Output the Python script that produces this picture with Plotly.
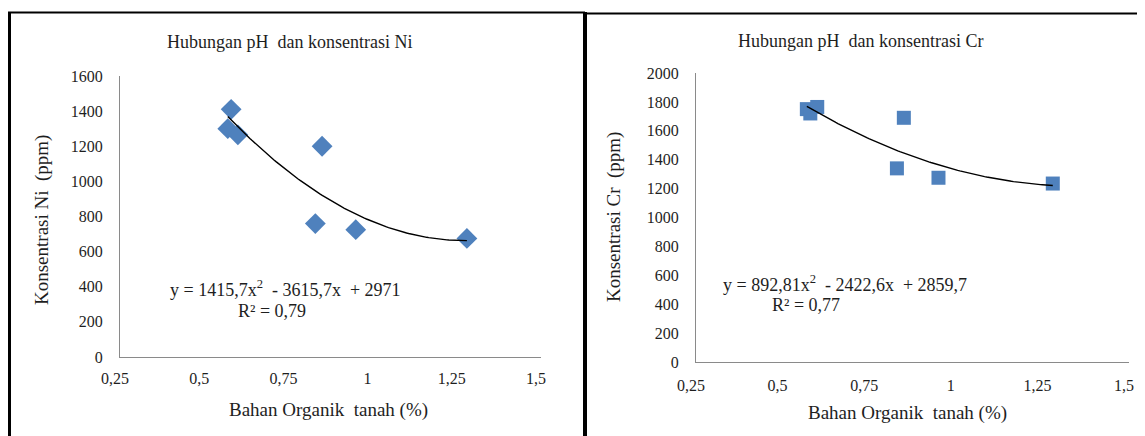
import numpy as np
import plotly.graph_objects as go

W, H = 1145, 436
OFF = 8  # page body margin in the browser

# ---- data ----
bahan_organik = [0.57, 0.58, 0.60, 0.83, 0.85, 0.95, 1.28]
ni_ppm = [1300, 1410, 1265, 760, 1200, 725, 675]
cr_ppm = [1750, 1720, 1765, 1340, 1690, 1275, 1235]
ni_poly = [1415.7, -3615.7, 2971]      # printed trendline y = a x^2 + b x + c
cr_poly = [892.81, -2422.6, 2859.7]
x_tickvals = [0.25, 0.5, 0.75, 1, 1.25, 1.5]
x_ticktext = ["0,25", "0,5", "0,75", "1", "1,25", "1,5"]
ni_yticks = [0, 200, 400, 600, 800, 1000, 1200, 1400, 1600]
cr_yticks = [0, 200, 400, 600, 800, 1000, 1200, 1400, 1600, 1800, 2000]
titles = ["Hubungan pH  dan konsentrasi Ni", "Hubungan pH  dan konsentrasi Cr"]
y_titles = ["Konsentrasi Ni  (ppm)", "Konsentrasi Cr  (ppm)"]
x_title = "Bahan Organik  tanah (%)"
eq_texts = ["y = 1415,7x<sup>2</sup>  - 3615,7x  + 2971", "y = 892,81x<sup>2</sup>  - 2422,6x  + 2859,7"]
r2_texts = ["R² = 0,79", "R² = 0,77"]

FONT = "Liberation Serif"
TXT = "#1e1e1e"
BLUE = "#4F81BD"
AX = "#8a8a8a"


def px(x):
    return (x - OFF) / W


def py(y):
    return 1 - (y - OFF) / H


fig = go.Figure()

xs = np.linspace(min(bahan_organik), max(bahan_organik), 120)
for vals, poly, sym, yaxis, xaxis in [
    (ni_ppm, ni_poly, "diamond", "y", "x"),
    (cr_ppm, cr_poly, "square", "y2", "x2"),
]:
    fig.add_trace(go.Scatter(
        x=bahan_organik, y=vals, mode="markers", xaxis=xaxis, yaxis=yaxis,
        marker=dict(symbol=sym, size=16 if sym == "diamond" else 14, color=BLUE, line=dict(width=0)),
        showlegend=False, hoverinfo="skip"))
    fig.add_trace(go.Scatter(
        x=xs, y=np.polyval(poly, xs), mode="lines", xaxis=xaxis, yaxis=yaxis,
        line=dict(color="#000000", width=1.4), showlegend=False, hoverinfo="skip"))

common_x = dict(range=[0.25, 1.5], tickvals=x_tickvals, ticktext=x_ticktext,
                showgrid=False, zeroline=False, showline=True, linecolor=AX, linewidth=1,
                ticks="", ticklabelshift=-5, automargin=False,
                tickfont=dict(family=FONT, size=16, color=TXT), fixedrange=True)
common_y = dict(showgrid=False, zeroline=False, showline=True, linecolor=AX, linewidth=1,
                ticks="", ticklabelstandoff=13, automargin=False,
                tickfont=dict(family=FONT, size=16, color=TXT), fixedrange=True)

fig.update_layout(
    width=W, height=H, margin=dict(l=0, r=0, t=0, b=0, autoexpand=False),
    paper_bgcolor="white", plot_bgcolor="white",
    xaxis=dict(domain=[px(120), px(541)], anchor="y", ticklabelstandoff=7, **common_x),
    yaxis=dict(domain=[py(357), py(76)], anchor="x", range=[0, 1600], tickvals=ni_yticks, **common_y),
    xaxis2=dict(domain=[px(696), px(1129)], anchor="y2", ticklabelstandoff=9, **common_x),
    yaxis2=dict(domain=[py(362), py(73)], anchor="x2", range=[0, 2000], tickvals=cr_yticks, **common_y),
)


def note(text, cx, cy, size, angle=0):
    return dict(text=text, x=px(cx), y=py(cy), xref="paper", yref="paper",
                xanchor="center", yanchor="middle", textangle=angle,
                showarrow=False, font=dict(family=FONT, size=size, color=TXT))


ann = []
for t, (cx, cy) in zip(titles, [(289, 42), (860, 41)]):
    ann.append(note(t, cx, cy, 18))
for t, (cx, cy) in zip(y_titles, [(42, 220), (614, 217)]):
    ann.append(note(t, cx, cy, 19, -90))
for cx, cy in [(328, 410), (907, 413)]:
    ann.append(note(x_title, cx, cy, 19))
for t, (cx, cy) in zip(eq_texts, [(285, 288), (845, 283)]):
    ann.append(note(t, cx, cy, 18))
for t, (cx, cy) in zip(r2_texts, [(272, 311), (806, 305)]):
    ann.append(note(t, cx, cy, 18))
fig.update_layout(annotations=ann)

# panel frame lines
shapes = [
    dict(type="line", xref="paper", yref="paper", x0=px(8), x1=px(585), y0=py(12.5), y1=py(12.5),
         line=dict(color="black", width=2)),
    dict(type="line", xref="paper", yref="paper", x0=px(585), x1=1, y0=py(13.5), y1=py(13.5),
         line=dict(color="black", width=2)),
    dict(type="line", xref="paper", yref="paper", x0=px(9.5), x1=px(9.5), y0=py(12), y1=0,
         line=dict(color="black", width=3)),
    dict(type="line", xref="paper", yref="paper", x0=px(585), x1=px(585), y0=py(12), y1=0,
         line=dict(color="black", width=4)),
]
fig.update_layout(shapes=shapes)

fig.write_html("out.html")
